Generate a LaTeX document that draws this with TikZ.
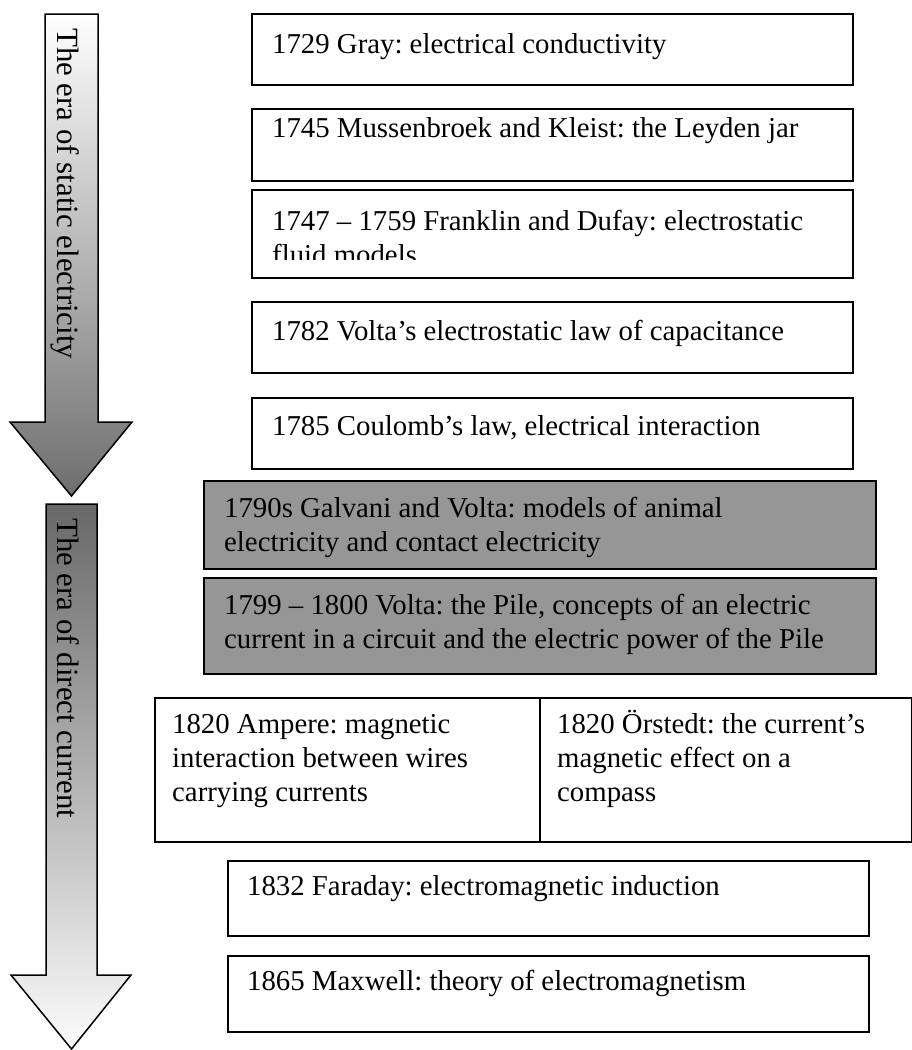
\documentclass[tikz,border=0pt]{standalone}
\usepackage{fontspec}
\setmainfont{Liberation Serif}
\definecolor{boxgray}{RGB}{150,150,150}
\definecolor{arrdark}{RGB}{110,110,110}
\definecolor{arrmidA}{RGB}{192,192,192}
\definecolor{arrtopB}{RGB}{104,104,104}
\definecolor{arrmidB}{RGB}{210,210,210}
\definecolor{arrbotB}{RGB}{252,252,252}
\newcommand\mylines[1]{\vtop{\baselineskip=34bp\halign{##\hfil\cr#1\crcr}}}
\begin{document}
\frenchspacing
\begin{tikzpicture}[x=1bp,y=-1bp,
  box/.style={draw=black, line width=1.5bp, fill=white, inner sep=0pt, anchor=north west},
  graybox/.style={box, fill=boxgray},
  txt/.style={inner sep=0pt, anchor=base west, font=\fontsize{28.9}{34.2}\selectfont\frenchspacing},
  arrtxt/.style={inner sep=0pt, anchor=base west, rotate=-90, font=\fontsize{31}{36}\selectfont\frenchspacing},
  arrline/.style={draw=black, line width=1.5bp, line join=miter}]
\useasboundingbox (0,0) rectangle (912,1050);

% era arrows
\shade[arrline, top color=white, middle color=arrmidA, bottom color=arrdark]
  (45,14) -- (98,14) -- (98,422) -- (132,422) -- (71.5,496) -- (10,422) -- (45,422) -- cycle;
\shade[arrline, top color=arrtopB, middle color=arrmidB, bottom color=arrbotB]
  (46,504) -- (97,504) -- (97,975) -- (131,975) -- (71.5,1049) -- (11,975) -- (46,975) -- cycle;
\node[arrtxt] (era1) at (57,28) {The era of static electricity};
\node[arrtxt] (era2) at (57,518) {The era of direct current};

% static era boxes
\node[box, minimum width=601bp, minimum height=71bp] (b1) at (251,13) {};
\node[txt] (t1) at (272,53) {1729 Gray: electrical conductivity};
\node[box, minimum width=601bp, minimum height=72bp] (b2) at (251,108) {};
\node[txt] (t2) at (272,137) {1745 Mussenbroek and Kleist: the Leyden jar};
\node[box, minimum width=601bp, minimum height=88bp] (b3) at (251,189) {};
\begin{scope}
\clip (252,190) rectangle (851,259);
\node[txt] (t3) at (272,230) {\mylines{1747 – 1759 Franklin and Dufay: electrostatic\cr fluid models}};
\end{scope}
\node[box, minimum width=601bp, minimum height=71bp] (b4) at (251,301) {};
\node[txt] (t4) at (272,340) {1782 Volta’s electrostatic law of capacitance};
\node[box, minimum width=601bp, minimum height=71bp] (b5) at (251,397) {};
\node[txt] (t5) at (272,435) {1785 Coulomb’s law, electrical interaction};

% direct current era
\node[graybox, minimum width=672bp, minimum height=88bp] (g1) at (203,480) {};
\node[txt] (t6) at (224,517) {\mylines{1790s Galvani and Volta: models of animal\cr electricity and contact electricity}};
\node[graybox, minimum width=672bp, minimum height=96bp] (g2) at (203,577) {};
\node[txt] (t7) at (224,614) {\mylines{1799 – 1800 Volta: the Pile, concepts of an electric\cr current in a circuit and the electric power of the Pile}};

\node[box, minimum width=385bp, minimum height=144bp] (c1) at (154,697) {};
\node[box, minimum width=372bp, minimum height=144bp] (c2) at (539,697) {};
\node[txt] (t8) at (172,733) {\mylines{1820 Ampere: magnetic\cr interaction between wires\cr carrying currents}};
\node[txt] (t9) at (557,733) {\mylines{1820 Örstedt: the current’s\cr magnetic effect on a\cr compass}};

\node[box, minimum width=641bp, minimum height=75bp] (f1) at (227,860) {};
\node[txt] (t10) at (247,895) {1832 Faraday: electromagnetic induction};
\node[box, minimum width=641bp, minimum height=76bp] (m1) at (227,955) {};
\node[txt] (t11) at (247,990) {1865 Maxwell: theory of electromagnetism};
\end{tikzpicture}
\end{document}
